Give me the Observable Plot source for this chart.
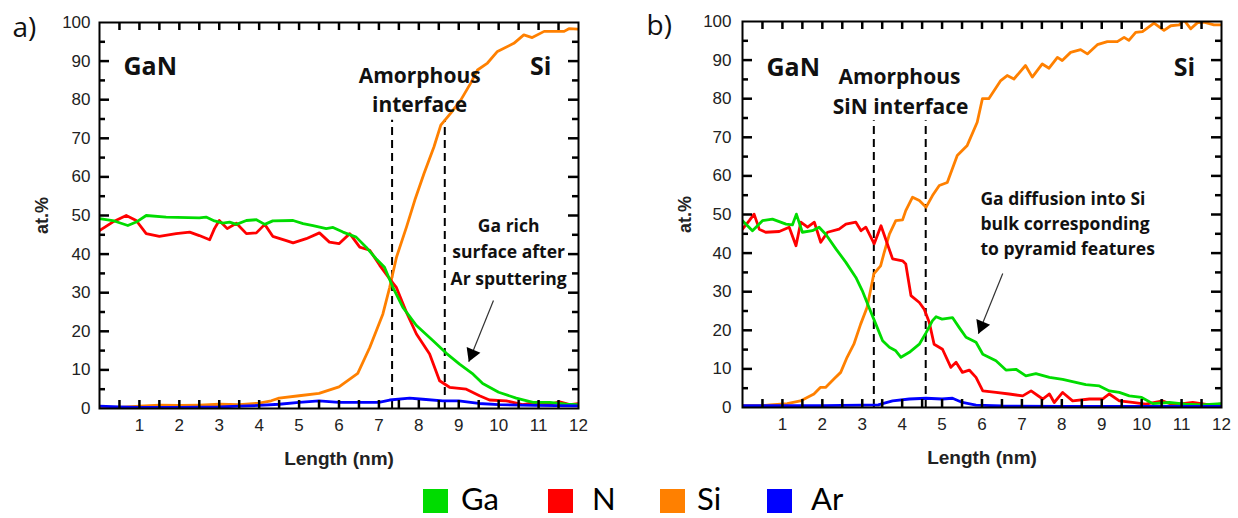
<!DOCTYPE html>
<html>
<head>
<meta charset="utf-8">
<script src="https://cdn.jsdelivr.net/npm/d3@7"></script>
<script src="https://cdn.jsdelivr.net/npm/@observablehq/plot@0.6"></script>
<style>
  body { margin: 0; background: #fff; }
  #wrap { position: relative; width: 1238px; height: 518px; overflow: hidden; }
  #panels { display: flex; }
  #legend { position: absolute; top: 470px; left: 0; width: 1238px; height: 48px;
            font-family: Lato, "Open Sans", sans-serif; font-size: 31px; color: #000; }
  .sw { position: absolute; top: 19px; width: 25px; height: 24px; }
  .lab { position: absolute; top: 10px; line-height: 1.2; white-space: nowrap; }
</style>
</head>
<body>
<div id="wrap">
  <div id="panels"></div>
  <div id="legend"></div>
</div>
<script>
// Element names and colours
const elements = ["Ga", "N", "Si", "Ar"];
const colors = ["#00dc00", "#ff0000", "#ff8000", "#0000ff"];

// Axis ticks
const xTicks = [1, 2, 3, 4, 5, 6, 7, 8, 9, 10, 11, 12];
const yTicks = [0, 10, 20, 30, 40, 50, 60, 70, 80, 90, 100];

// Panel a) — composition profile [length nm, at.%]
const aGa = [[0,49.2],[0.33,48.7],[0.71,47.4],[0.92,48.3],[1.17,50],[1.67,49.6],[2.5,49.4],[2.67,49.6],[2.88,48.6],[3.09,48],[3.26,48.3],[3.43,47.7],[3.68,48.7],[3.93,48.9],[4.14,47.7],[4.34,48.6],[4.85,48.7],[5.1,47.9],[5.35,47.4],[5.68,46.6],[5.85,46.9],[6.1,45.7],[6.43,44.4],[6.68,41.8],[6.93,38.8],[7.14,36.6],[7.35,31.4],[7.6,26.2],[7.94,21.5],[8.35,17.6],[8.69,14.3],[9.02,11.5],[9.36,8.9],[9.6,6.5],[10.0,4.2],[10.44,2.7],[10.86,1.6],[11.28,1.6],[11.7,1.1],[12,1.0]];
const aN = [[0,46.1],[0.33,48.3],[0.67,50],[0.92,48.7],[1.17,45.3],[1.5,44.6],[1.92,45.3],[2.26,45.7],[2.5,44.8],[2.76,43.7],[2.88,46.6],[3.0,48.7],[3.2,46.6],[3.43,48],[3.68,45.3],[3.93,45.5],[4.14,47.7],[4.34,44.6],[4.68,43.5],[4.85,42.9],[5.18,44],[5.51,45.5],[5.76,43.1],[6.0,42.7],[6.27,45.3],[6.52,41.8],[6.77,41],[7.02,37.1],[7.27,33.6],[7.44,31.3],[7.69,24.9],[7.94,19.3],[8.27,14.1],[8.52,7.2],[8.77,5.5],[9.19,5.0],[9.52,3.3],[9.77,2.2],[10.19,2.0],[10.6,1.0],[10.94,1.6],[11.28,1.1],[11.53,1.7],[11.78,1.0],[12,1.3]];
const aSi = [[0,0.3],[0.5,0.3],[1.0,0.6],[1.5,0.9],[2.0,0.8],[2.5,0.9],[3.0,1.1],[3.5,1.0],[4.0,1.4],[4.3,2.0],[4.5,2.7],[5.0,3.3],[5.5,3.9],[6.0,5.6],[6.47,9.1],[6.77,15.8],[7.1,24.5],[7.27,31.4],[7.44,39.2],[7.69,47],[7.9,54],[8.13,60.9],[8.38,67.8],[8.55,73.4],[8.8,76.5],[9.05,79.9],[9.3,84.3],[9.47,87.7],[9.72,89.5],[9.97,92.5],[10.38,94.6],[10.63,96.8],[10.84,96.1],[11.14,97.7],[11.64,97.7],[11.76,98.4],[12,98.3]];
const aAr = [[0,0.6],[0.5,0.4],[1,0.3],[2,0.3],[3,0.4],[3.5,0.6],[4,0.8],[4.5,1.1],[5,1.6],[5.5,2.0],[6.0,1.6],[6.5,1.6],[7.0,1.6],[7.27,2.2],[7.77,2.7],[8.1,2.4],[8.6,2.0],[9.0,2.0],[9.5,1.3],[10,1.0],[10.9,0.8],[12,0.7]];
const aInterface = [7.33, 8.65];

// Panel b) — composition profile [length nm, at.%]
const bGa = [[0,48.4],[0.25,45.8],[0.5,48.4],[0.75,48.8],[1.09,47.5],[1.25,47.3],[1.35,50.1],[1.5,45.4],[1.75,45.8],[1.92,46.7],[2.09,44.8],[2.34,41.1],[2.59,37.6],[2.84,33.7],[3.0,30.3],[3.17,25.9],[3.34,21.6],[3.51,17.3],[3.68,15.6],[3.84,14.7],[3.97,13.0],[4.18,14.3],[4.43,16.4],[4.6,19.4],[4.76,22.5],[4.85,23.5],[5.0,22.9],[5.26,23.3],[5.43,20.7],[5.6,18.2],[5.85,16.9],[6.02,13.8],[6.35,12.1],[6.6,9.7],[6.85,9.9],[7.1,8.2],[7.35,8.8],[7.69,7.8],[8.02,7.3],[8.35,6.5],[8.6,5.9],[8.94,5.6],[9.19,4.3],[9.44,3.9],[9.69,3.0],[10.0,2.6],[10.28,1.0],[10.69,1.3],[11.1,0.9],[11.5,0.7],[12,1.0]];
const bN = [[0,46.2],[0.17,48.4],[0.29,50.1],[0.42,46.2],[0.58,45.4],[0.92,45.6],[1.17,46.7],[1.34,41.9],[1.46,48],[1.63,46.7],[1.8,48],[1.96,42.8],[2.13,45.4],[2.42,46.2],[2.59,47.5],[2.84,48],[2.97,45.8],[3.09,46.7],[3.3,42.4],[3.47,47.1],[3.76,38.5],[4.01,38],[4.09,37.2],[4.22,29],[4.43,27.2],[4.55,25.5],[4.68,22],[4.8,16.4],[5.01,15.1],[5.22,10.4],[5.35,11.7],[5.51,9.1],[5.68,9.7],[5.85,7.8],[6.02,4.3],[6.35,3.9],[6.68,3.5],[7.02,3.0],[7.23,4.3],[7.52,2.2],[7.69,3.5],[7.81,1.3],[8.02,3.9],[8.27,1.7],[8.69,2.2],[9.02,2.2],[9.19,3.5],[9.44,1.7],[9.77,1.3],[10.1,0.9],[10.53,1.7],[10.78,0.7],[11.28,1.3],[11.7,0.7],[12,0.9]];
const bSi = [[0,0.5],[0.5,0.5],[0.7,0.7],[1.12,1.0],[1.45,1.7],[1.79,3.5],[1.95,5.2],[2.08,5.2],[2.29,7.4],[2.46,9.1],[2.62,13],[2.79,16.4],[2.96,21.6],[3.12,25.9],[3.29,34.6],[3.46,36.7],[3.54,39.8],[3.68,44.9],[3.84,48.4],[4.01,48.6],[4.09,51],[4.26,54.5],[4.43,53.6],[4.6,51.9],[4.76,54.9],[4.93,57.5],[5.13,58.3],[5.38,65.3],[5.63,67.9],[5.88,73.9],[6.01,80],[6.17,80],[6.47,84.7],[6.63,86],[6.8,85.1],[7.09,88.6],[7.26,85.6],[7.51,89],[7.68,87.9],[7.89,90.7],[8.01,89.9],[8.22,92],[8.47,92.7],[8.64,91.6],[8.89,94],[9.14,94.8],[9.39,94.8],[9.56,95.9],[9.68,95.1],[9.85,97.2],[10.02,97.4],[10.31,99.6],[10.56,97.7],[10.73,98.9],[10.94,99.1],[11.06,100.4],[11.23,98.1],[11.4,99.7],[11.56,99.8],[11.81,99.1],[12,99.1]];
const bAr = [[0,0.5],[1,0.5],[2,0.5],[3,0.6],[3.4,0.7],[3.51,1.0],[3.76,1.7],[4.18,2.2],[4.6,2.4],[5.0,2.2],[5.26,2.4],[5.51,1.3],[5.85,0.6],[6.5,0.4],[8,0.3],[10,0.3],[12,0.3]];
const bInterface = [3.29, 4.59];

const W = 619, H = 470;
const noteFont = "'Open Sans', Lato, sans-serif";
const axisFont = "'Liberation Sans', Arial, sans-serif";

function panel({series, ml, mr, mt, mb, padY, tag, tagDx, tagDy, dashes, dashTop, notes, sideNotes, arrow}) {
  const pw = W - ml - mr, ph = H - mt - mb;
  const kx = pw / 12, ky = ph / 100;

  // arrow head direction in screen space
  const vx = (arrow.x2 - arrow.x1) * kx, vy = -(arrow.y2 - arrow.y1) * ky;
  const len = Math.hypot(vx, vy), ux = vx / len, uy = vy / len;
  const angle = Math.atan2(ux, -uy) * 180 / Math.PI;
  const headR = 5.5;
  const hy = Math.sqrt(headR * headR * Math.PI / (Math.sqrt(3) * 3));

  const half = d3.range(0.5, 12, 0.5);
  const yMinor = d3.range(5, 100, 10);
  const yMajor = yTicks.slice(1, -1);
  const tickStyle = {stroke: "#000", strokeWidth: 2.5};
  const tx = 8 / ky, tyMajor = 10 / kx, tyMinor = 6 / kx;
  const noteStyle = {x: "x", y: "y", text: "t", fontSize: "s", fontFamily: noteFont, fontWeight: "bold", fill: "#111", lineAnchor: "middle"};

  return Plot.plot({
    width: W, height: H,
    marginLeft: ml, marginRight: mr, marginTop: mt, marginBottom: mb,
    x: {domain: [0, 12]},
    y: {domain: [0, 100]},
    style: {fontFamily: axisFont, fontSize: "17px", color: "#222", background: "#fff", overflow: "visible"},
    marks: [
      Plot.axisY({ticks: yTicks, tickSize: 0, tickPadding: padY, label: null, fontSize: 17}),
      Plot.axisX({ticks: xTicks, tickSize: 0, tickPadding: 10, label: null, fontSize: 17}),
      // interface boundaries
      Plot.ruleX(dashes, {x: d => d, y1: 0, y2: dashTop, stroke: "#000", strokeWidth: 2, strokeDasharray: "8,5"}),
      // element profiles (drawn Si, N, Ga, Ar)
      ...series.map((pts, i) => Plot.line(pts, {x: d => d[0], y: d => d[1], stroke: colors[[2, 1, 0, 3][i]], strokeWidth: 2.8, clip: true})),
      Plot.frame({stroke: "#000", strokeWidth: 2}),
      // inward tick marks on all four sides
      Plot.ruleX(half, {x: d => d, y1: 100, y2: 100 - tx, ...tickStyle}),
      Plot.ruleX(half, {x: d => d, y1: 0, y2: tx, ...tickStyle}),
      Plot.ruleY(yMajor, {y: d => d, x1: 0, x2: tyMajor, ...tickStyle}),
      Plot.ruleY(yMajor, {y: d => d, x1: 12, x2: 12 - tyMajor, ...tickStyle}),
      Plot.ruleY(yMinor, {y: d => d, x1: 0, x2: tyMinor, ...tickStyle}),
      Plot.ruleY(yMinor, {y: d => d, x1: 12, x2: 12 - tyMinor, ...tickStyle}),
      // annotations
      Plot.text(notes, {...noteStyle, textAnchor: "middle"}),
      Plot.text(sideNotes, {...noteStyle, textAnchor: "start"}),
      Plot.link([arrow], {x1: "x1", y1: "y1", x2: "x2", y2: "y2", stroke: "#333", strokeWidth: 1.2}),
      Plot.dot([arrow], {x: "x2", y: "y2", symbol: "triangle", r: headR, fill: "#000", stroke: "none",
        rotate: angle, dx: -ux * 2 * hy, dy: -uy * 2 * hy}),
      // axis titles and panel tag
      Plot.text(["at.%"], {frameAnchor: "left", dx: -57, rotate: -90, textAnchor: "middle", lineAnchor: "middle",
        fontWeight: "bold", fontSize: 18, fill: "#222"}),
      Plot.text(["Length (nm)"], {frameAnchor: "bottom", dy: 50, textAnchor: "middle", lineAnchor: "middle",
        fontWeight: "bold", fontSize: 19, fill: "#222"}),
      Plot.text([tag], {frameAnchor: "top-left", dx: tagDx, dy: tagDy, textAnchor: "start", lineAnchor: "middle",
        fontSize: 28, fontFamily: noteFont, fill: "#111"})
    ]
  });
}

const host = document.getElementById("panels");

host.append(panel({
  series: [aSi, aN, aGa, aAr],
  ml: 99, mr: 41, mt: 22, mb: 62, padY: 9,
  tag: "a)", tagDx: -87, tagDy: 6,
  dashes: aInterface, dashTop: 74.7,
  notes: [
    {t: "GaN", x: 1.27, y: 88.6, s: 25},
    {t: "Si", x: 11.05, y: 88.4, s: 25},
    {t: "Amorphous", x: 8.02, y: 86.2, s: 21},
    {t: "interface", x: 8.02, y: 78.6, s: 21},
    {t: "Ga rich", x: 10.25, y: 47.2, s: 17.5},
    {t: "surface after", x: 10.25, y: 40.4, s: 17.5},
    {t: "Ar sputtering", x: 10.25, y: 33.4, s: 17.5}
  ],
  sideNotes: [],
  arrow: {x1: 9.87, y1: 28.0, x2: 9.25, y2: 12.1}
}));

host.append(panel({
  series: [bSi, bN, bGa, bAr],
  ml: 123, mr: 17, mt: 21, mb: 63, padY: 11,
  tag: "b)", tagDx: -96, tagDy: 5,
  dashes: bInterface, dashTop: 74.3,
  notes: [
    {t: "GaN", x: 1.27, y: 87.9, s: 25},
    {t: "Si", x: 11.07, y: 87.9, s: 25},
    {t: "Amorphous", x: 3.93, y: 85.6, s: 21},
    {t: "SiN interface", x: 3.96, y: 77.7, s: 21}
  ],
  sideNotes: [
    {t: "Ga diffusion into Si", x: 5.96, y: 53.8, s: 17.5},
    {t: "bulk corresponding", x: 5.96, y: 47.4, s: 17.5},
    {t: "to pyramid features", x: 5.96, y: 40.9, s: 17.5}
  ],
  arrow: {x1: 6.52, y1: 34.7, x2: 5.91, y2: 19.1}
}));

// Legend: swatch and label positions
const swatchLeft = [423, 548, 660, 767];
const labelLeft = [461, 592, 697, 811];
const legend = document.getElementById("legend");
elements.forEach((name, i) => {
  const sw = document.createElement("div");
  sw.className = "sw";
  sw.style.left = swatchLeft[i] + "px";
  sw.style.background = colors[i];
  const label = document.createElement("div");
  label.className = "lab";
  label.style.left = labelLeft[i] + "px";
  label.textContent = name;
  legend.append(sw, label);
});
</script>
</body>
</html>
